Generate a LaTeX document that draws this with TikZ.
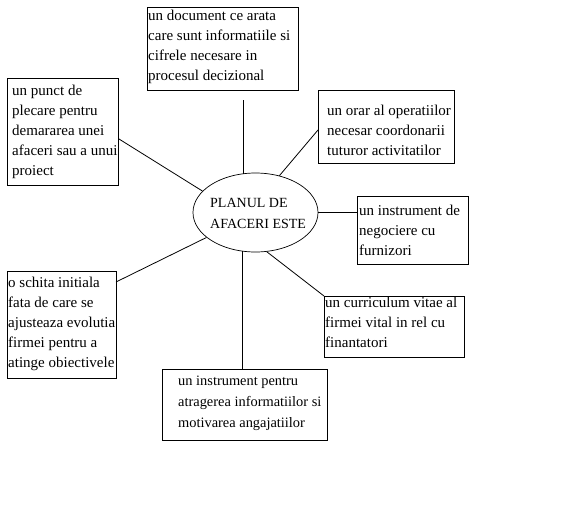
\documentclass[tikz,border=0pt]{standalone}
\usepackage{fontspec}
\setmainfont{Liberation Serif}
\usetikzlibrary{shapes.geometric}
\newcommand\fstr{\rule{0pt}{14pt}}
\begin{document}
\begin{tikzpicture}[x=1pt,y=-1pt,
  box/.style={draw,line width=0.9pt,inner sep=0,anchor=north west},
  txt/.style={anchor=north west,inner sep=0,align=left,font=\fontsize{15}{20}\selectfont},
  link/.style={line width=0.8pt}]
\useasboundingbox[fill=white] (0,0) rectangle (574,530);
% central ellipse
\node[draw,ellipse,line width=0.7pt,inner sep=0,minimum width=125pt,minimum height=79pt] (E) at (255.5,212.5) {};
\node[txt,font=\fontsize{14}{21}\selectfont] (Et) at (210,193) {\fstr PLANUL DE\\AFACERI ESTE};
% boxes
\node[box,minimum width=151pt,minimum height=83pt] (A) at (147,7) {};
\node[txt] (At) at (148,6) {\fstr un document ce arata\\care sunt informatiile si\\cifrele necesare in\\procesul decizional};
\node[box,minimum width=111pt,minimum height=107pt] (B) at (7,78) {};
\node[txt] (Bt) at (12,81) {\fstr un punct de\\plecare pentru\\demararea unei\\afaceri sau a unui\\proiect};
\node[box,minimum width=136pt,minimum height=73pt] (C) at (318,90) {};
\node[txt] (Ct) at (327,101) {\fstr un orar al operatiilor\\necesar coordonarii\\tuturor activitatilor};
\node[box,minimum width=111pt,minimum height=68pt] (D) at (357,196) {};
\node[txt] (Dt) at (359,201) {\fstr un instrument de\\negociere cu\\furnizori};
\node[box,minimum width=140pt,minimum height=61pt] (F) at (324,296) {};
\node[txt] (Ft) at (325,293) {\fstr un curriculum vitae al\\firmei vital in rel cu\\finantatori};
\node[box,minimum width=109pt,minimum height=107pt] (S) at (7,271) {};
\node[txt] (St) at (8,273) {\fstr o schita initiala\\fata de care se\\ajusteaza evolutia\\firmei pentru a\\atinge obiectivele};
\node[box,minimum width=165pt,minimum height=71pt] (G) at (162,369) {};
\node[txt,font=\fontsize{14.4}{21}\selectfont] (Gt) at (178,371) {\fstr un instrument pentru\\atragerea informatiilor si\\motivarea angajatiilor};
% connector ends
\coordinate (a1) at (243,100);
\coordinate (b1) at (119,139);
\coordinate (c1) at (318,130);
\coordinate (s1) at (116,282);
% connectors
\draw[link] (a1) -- ([yshift=-1pt]a1 |- E.north);
\draw[link] (b1) -- (E.158);
\draw[link] (c1) -- (E.57);
\draw[link] (E.east) -- (E.east -| D.west);
\draw[link] (E.-74) -- (F.north west);
\draw[link] (s1) -- (E.207);
\draw[link] (E.-109) -- (E.-109 |- G.north);
\end{tikzpicture}
\end{document}
